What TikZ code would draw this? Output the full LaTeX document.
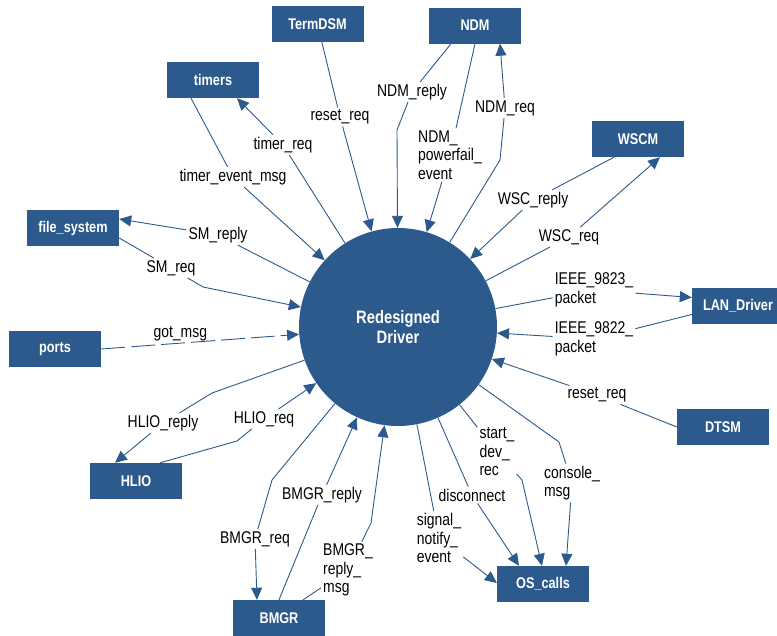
\documentclass[tikz,border=0pt]{standalone}
\usepackage{fontspec}
\setmainfont[FakeStretch=0.82]{Liberation Sans}
\usetikzlibrary{arrows.meta}
\definecolor{drvblue}{RGB}{44,90,140}

\tikzset{
  ->/.style={draw=drvblue,line width=0.9pt,-{Triangle[length=12pt,width=11pt]}},
  box/.style={rectangle,fill=drvblue,text=white,minimum width=92pt,minimum height=36pt,
    inner sep=0pt,font=\fontsize{15.5}{17}\selectfont\bfseries},
  hub/.style={circle,fill=drvblue,text=white,minimum size=198pt,inner sep=0pt,align=center,
    font=\fontsize{18}{20.7}\selectfont\bfseries},
  lbl/.style={inner sep=2pt,align=left}
}
\tikzstyle{every node}=[font=\fontsize{17}{18.5}\selectfont]

\begin{document}
\begin{tikzpicture}[x=1pt,y=-1pt]
    \useasboundingbox (0,0) rectangle (777,635);
    \clip (0,0) rectangle (777,635);
    % driver and the processes round it
    \node[hub] (drv) at (398,327) {Redesigned\\Driver};
    \node[box] (termdsm) at (317.5,24) {TermDSM};
    \node[box] (ndm) at (475,25.5) {NDM};
    \node[box] (timers) at (213,80) {timers};
    \node[box] (wscm) at (638,139) {WSCM};
    \node[box] (fsys) at (73,228) {file\_system};
    \node[box] (lan) at (738,305.5) {LAN\_Driver};
    \node[box] (ports) at (55,349) {ports};
    \node[box] (dtsm) at (723,427) {DTSM};
    \node[box] (hlio) at (136,481) {HLIO};
    \node[box] (oscalls) at (543,584) {OS\_calls};
    \node[box] (bmgr) at (279,618) {BMGR};
    % message labels
    \node[lbl] (lrsta) at (340,117) {reset\_req};
    \node[lbl] (lndmr) at (412,92) {NDM\_reply};
    \node[lbl] (lndmp) at (450,155) {NDM\_\\powerfail\_\\event};
    \node[lbl] (lndmq) at (505,108) {NDM\_req};
    \node[lbl] (lwscr) at (533,200) {WSC\_reply};
    \node[lbl] (lwscq) at (569,237) {WSC\_req};
    \node[lbl] (l9823) at (594,290) {IEEE\_9823\_\\packet};
    \node[lbl] (l9822) at (594,339) {IEEE\_9822\_\\packet};
    \node[lbl] (lrstb) at (597,395) {reset\_req};
    \node[lbl] (lstart) at (497,452) {start\_\\dev\_\\rec};
    \node[lbl] (lcons) at (572,483) {console\_\\msg};
    \node[lbl] (ldisc) at (472,495) {disconnect};
    \node[lbl] (lsig) at (439,538) {signal\_\\notify\_\\event};
    \node[lbl] (lbmsg) at (348,570) {BMGR\_\\reply\_\\msg};
    \node[lbl] (lbrep) at (322,495) {BMGR\_reply};
    \node[lbl] (lbreq) at (255,539) {BMGR\_req};
    \node[lbl] (lhreq) at (264,419) {HLIO\_req};
    \node[lbl] (lhrep) at (163,423) {HLIO\_reply};
    \node[lbl] (lsmq) at (171,268) {SM\_req};
    \node[lbl] (lsmr) at (218,235) {SM\_reply};
    \node[lbl] (lterq) at (283,145) {timer\_req};
    \node[lbl] (ltev) at (233,177) {timer\_event\_msg};
    % messages
    \draw [->] (termdsm) -- (lrsta) -- (drv);
    \draw [->] ([xshift=-24pt]ndm.south) -- (lndmr) -- (397,130) -- (drv);
    \draw [->] (ndm.south) -- (lndmp) -- (drv);
    \draw [->] (drv) -- (500,160) -- (lndmq) -- ([xshift=25pt]ndm.south);
    \draw [->] ([xshift=-24pt]wscm.south) -- (lwscr) -- (drv);
    \draw [->] (drv) -- (lwscq) -- ([xshift=22pt]wscm.south);
    \draw [->] (drv) -- (l9823) -- ([yshift=8pt]lan.west);
    \draw [->] ([yshift=-9pt]lan.west) -- (l9822) -- (drv);
    \draw [->] (dtsm.west) -- (lrstb) -- (drv);
    \draw [->] (drv) -- (lstart) -- (522,480) -- ([xshift=-1pt]oscalls.north);
    \draw [->] (drv) -- (559,442) -- (lcons) -- ([xshift=23pt]oscalls.north);
    \draw [->] (drv) -- (ldisc) -- ([xshift=-24pt]oscalls.north);
    \draw [->] (drv) -- (lsig) -- ([yshift=1pt]oscalls.west);
    \draw [->] ([xshift=24pt]bmgr.north) -- (lbmsg) -- (371,523) -- (drv);
    \draw [->] (bmgr.north) -- (lbrep) -- (drv);
    \draw [->] (drv) -- (272,480) -- (lbreq) -- ([xshift=-22pt]bmgr.north);
    \draw [->] ([xshift=24pt]hlio.north) -- (237,441) -- (lhreq) -- (drv);
    \draw [->] (drv) -- (212,393) -- (lhrep) -- ([xshift=-21pt]hlio.north);
    \draw [->,dash pattern=on 24pt off 6pt] (ports.east) -- node[lbl,above,pos=0.4] {got\_msg} (drv);
    \draw [->] ([yshift=-10pt]fsys.east) -- (lsmq) -- (203,287) -- (drv);
    \draw [->] (drv) -- (lsmr) -- ([yshift=9pt]fsys.east);
    \draw [->] (drv) -- (lterq) -- ([xshift=24pt]timers.south);
    \draw [->] ([xshift=-22pt]timers.south) -- (ltev) -- (drv);
\end{tikzpicture}
\end{document}
